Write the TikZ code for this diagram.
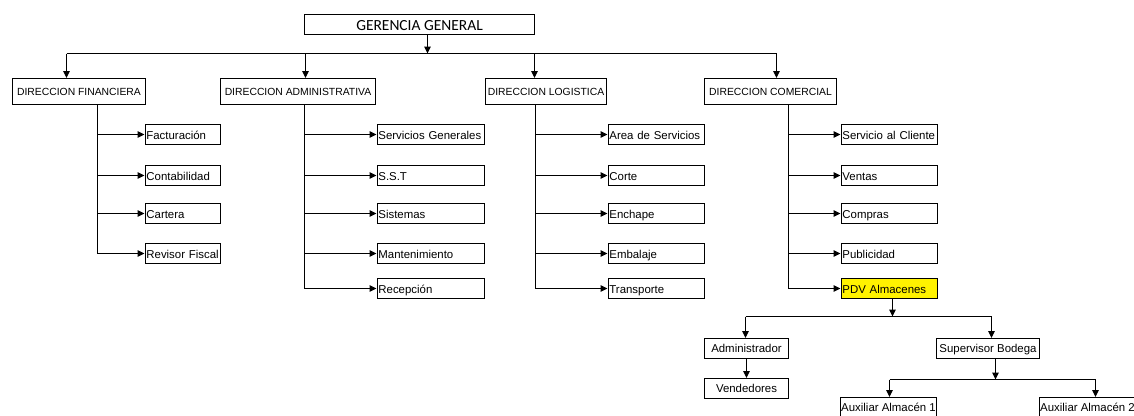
\documentclass[tikz,border=0pt]{standalone}
\usepackage{fontspec}
\setmainfont{Liberation Sans}
\newfontfamily\calibri{Carlito}
\usetikzlibrary{arrows.meta, positioning, calc}

\tikzset{
  caja/.style={draw, line width=0.57pt, inner sep=0pt, minimum height=0.4cm,
    text height=4.7pt, text depth=0pt, font=\fontsize{6.5}{7}\selectfont},
  dir/.style={caja, minimum height=0.52cm, text height=4.2pt,
    font=\fontsize{5.9}{7}\selectfont},
  hijo/.style={caja, anchor=west, inner xsep=0.8pt,
    text height=6.2pt, text width=#1, align=left},
  flecha/.style={-{Triangle[length=1.4mm, width=1.3mm]}, line width=0.57pt},
  linea/.style={line width=0.57pt},
}

\begin{document}
\begin{tikzpicture}[x=0.02cm, y=-0.02cm]
  \useasboundingbox (0,0) rectangle (1134,416);
  \clip (0,0) rectangle (1134,416);
  % Gerencia y direcciones
  \node[caja, minimum width=4.6cm, text height=6.6pt,
    font=\calibri\fontsize{8.8}{10}\selectfont]
    (ger) at (419.5,24.5) {GERENCIA GENERAL};
  \node[dir, minimum width=2.66cm] (fin) at (79,91.5) {DIRECCION FINANCIERA};
  \node[dir, minimum width=3.1cm]  (adm) at (298,91.5) {DIRECCION ADMINISTRATIVA};
  \node[dir, minimum width=2.42cm] (log) at (546,91.5) {DIRECCION LOGISTICA};
  \node[dir, minimum width=2.64cm] (com) at (770.5,91.5) {DIRECCION COMERCIAL};
  \coordinate (b0) at (427.5,53.5);
  \coordinate (b1) at (66.5,53.5);
  \coordinate (b2) at (305.5,53.5);
  \coordinate (b3) at (534.5,53.5);
  \coordinate (b4) at (776.5,53.5);
  \draw[flecha] (ger.south -| b0) -- (b0);
  \draw[linea] (b1) -- (b4);
  \foreach \b/\d in {b1/fin, b2/adm, b3/log, b4/com}
    \draw[flecha] (\b) -- (\b |- \d.north);
  % Financiera
  \coordinate (tf) at (97.5,0);
  \node[hijo=1.464cm] (fac) at (144.5,134.5) {Facturación};
  \node[hijo=1.464cm] (con) at (144.5,175.5) {Contabilidad};
  \node[hijo=1.464cm] (car) at (144.5,213.5) {Cartera};
  \node[hijo=1.464cm] (rev) at (144.5,253.5) {Revisor Fiscal};
  \draw[linea] (fin.south -| tf) -- (tf |- rev.west);
  \foreach \h in {fac,con,car,rev}
    \draw[flecha] (tf |- \h.west) -- (\h.west);
  % Administrativa
  \coordinate (ta) at (304.5,0);
  \node[hijo=2.104cm] (ser) at (376.5,134.5) {Servicios Generales};
  \node[hijo=2.104cm] (sst) at (376.5,175.5) {S.S.T};
  \node[hijo=2.104cm] (sis) at (376.5,213.5) {Sistemas};
  \node[hijo=2.104cm] (man) at (376.5,253.5) {Mantenimiento};
  \node[hijo=2.104cm] (rec) at (376.5,288.5) {Recepción};
  \draw[linea] (adm.south -| ta) -- (ta |- rec.west);
  \foreach \h in {ser,sst,sis,man,rec}
    \draw[flecha] (ta |- \h.west) -- (\h.west);
  % Logistica
  \coordinate (tl) at (535.5,0);
  \node[hijo=1.884cm] (are) at (607.5,134.5) {Area de Servicios};
  \node[hijo=1.884cm] (cor) at (607.5,175.5) {Corte};
  \node[hijo=1.884cm] (enc) at (607.5,213.5) {Enchape};
  \node[hijo=1.884cm] (emb) at (607.5,253.5) {Embalaje};
  \node[hijo=1.884cm] (tra) at (607.5,288.5) {Transporte};
  \draw[linea] (log.south -| tl) -- (tl |- tra.west);
  \foreach \h in {are,cor,enc,emb,tra}
    \draw[flecha] (tl |- \h.west) -- (\h.west);
  % Comercial
  \coordinate (tc) at (788.5,0);
  \node[hijo=1.884cm] (cli) at (840.5,134.5) {Servicio al Cliente};
  \node[hijo=1.884cm] (ven) at (840.5,175.5) {Ventas};
  \node[hijo=1.884cm] (cpr) at (840.5,213.5) {Compras};
  \node[hijo=1.884cm] (pub) at (840.5,253.5) {Publicidad};
  \node[hijo=1.884cm, fill=yellow] (pdv) at (840.5,288.5) {PDV Almacenes};
  \draw[linea] (com.south -| tc) -- (tc |- pdv.west);
  \foreach \h in {cli,ven,cpr,pub,pdv}
    \draw[flecha] (tc |- \h.west) -- (\h.west);
  % PDV Almacenes
  \node[caja, minimum width=1.68cm] (adr) at (746.5,348.5) {Administrador};
  \node[caja, minimum width=1.68cm] (vdr) at (746.5,388.5) {Vendedores};
  \node[caja, minimum width=2.06cm] (sup) at (988,348.5) {Supervisor Bodega};
  \node[caja, minimum width=1.92cm] (aux1) at (888.5,407.5) {Auxiliar Almacén 1};
  \node[caja, minimum width=1.92cm] (aux2) at (1087.5,407.5) {Auxiliar Almacén 2};
  \coordinate (bp) at (892.5,316.5);
  \coordinate (ba) at (745.5,316.5);
  \coordinate (bs) at (991.5,316.5);
  \draw[flecha] (pdv.south -| bp) -- (bp);
  \draw[linea] (ba) -- (bs);
  \draw[flecha] (ba) -- (ba |- adr.north);
  \draw[flecha] (bs) -- (bs |- sup.north);
  \draw[flecha] (adr.south) -- (vdr.north);
  \coordinate (bx) at (995.5,379.5);
  \coordinate (b5) at (889.5,379.5);
  \coordinate (b6) at (1095.5,379.5);
  \draw[flecha] (sup.south -| bx) -- (bx);
  \draw[linea] (b5) -- (b6);
  \draw[flecha] (b5) -- (b5 |- aux1.north);
  \draw[flecha] (b6) -- (b6 |- aux2.north);
\end{tikzpicture}
\end{document}
